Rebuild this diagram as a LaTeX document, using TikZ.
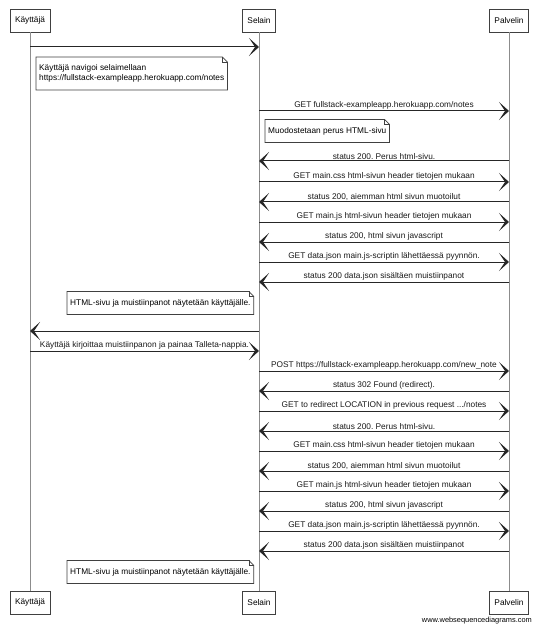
\documentclass[tikz,border=0pt]{standalone}
\usepackage{fontspec}
\setmainfont{Liberation Sans}
\usetikzlibrary{arrows.meta}

\begin{document}
\frenchspacing
\begin{tikzpicture}[
    x=1pt, y=-1pt,
    actor/.style={rectangle, draw=black!75, line width=0.7pt, fill=white, inner xsep=5pt, minimum height=23pt, font=\fontsize{8.3}{10}\selectfont},
    lifeline/.style={draw=black!45, line width=0.6pt},
    note/.style={rectangle, fill=white, inner xsep=3pt, inner ysep=7.5pt, align=left, anchor=west, font=\fontsize{8.3}{10}\selectfont},
    noteline/.style={draw=black!75, line width=0.7pt},
    msg/.style={-{Stealth[length=10pt, width=18pt, inset=6pt]}, line width=1pt, draw=black!85},
    lbl/.style={midway, above, inner sep=1pt, font=\fontsize{8.3}{10}\selectfont, text=black!90}
]
\useasboundingbox (0,0) rectangle (536,628);

% Participants
\node[actor] (kay) at (30,20.5) {Käyttäjä};
\node[actor] (sel) at (259,20.5) {Selain};
\node[actor] (pal) at (509,20.5) {Palvelin};

\node[actor] (kayb) at (30,602.5) {Käyttäjä};
\node[actor] (selb) at (259,602.5) {Selain};
\node[actor] (palb) at (509,602.5) {Palvelin};

% Lifelines
\draw[lifeline] (kay) -- (kayb);
\draw[lifeline] (sel) -- (selb);
\draw[lifeline] (pal) -- (palb);

% First page load
\draw[msg] (kay |- 0,47) -- (sel |- 0,47);
\draw[msg] (sel |- 0,111) -- (pal |- 0,111) node[lbl] {GET fullstack-exampleapp.herokuapp.com/notes};
\draw[msg] (pal |- 0,161) -- (sel |- 0,161) node[lbl] {status 200. Perus html-sivu.};
\draw[msg] (sel |- 0,182) -- (pal |- 0,182) node[lbl] {GET main.css html-sivun header tietojen mukaan};
\draw[msg] (pal |- 0,202) -- (sel |- 0,202) node[lbl] {status 200, aiemman html sivun muotoilut};
\draw[msg] (sel |- 0,222) -- (pal |- 0,222) node[lbl] {GET main.js html-sivun header tietojen mukaan};
\draw[msg] (pal |- 0,242) -- (sel |- 0,242) node[lbl] {status 200, html sivun javascript};
\draw[msg] (sel |- 0,262) -- (pal |- 0,262) node[lbl] {GET data.json main.js-scriptin lähettäessä pyynnön.};
\draw[msg] (pal |- 0,282) -- (sel |- 0,282) node[lbl] {status 200 data.json sisältäen muistiinpanot};
\draw[msg] (sel |- 0,331) -- (kay |- 0,331);

% New note
\draw[msg] (kay |- 0,351) -- (sel |- 0,351) node[lbl] {Käyttäjä kirjoittaa muistiinpanon ja painaa Talleta-nappia.};
\draw[msg] (sel |- 0,371) -- (pal |- 0,371) node[lbl] {POST https://fullstack-exampleapp.herokuapp.com/new\_note};
\draw[msg] (pal |- 0,391) -- (sel |- 0,391) node[lbl] {status 302 Found (redirect).};
\draw[msg] (sel |- 0,411) -- (pal |- 0,411) node[lbl] {GET to redirect LOCATION in previous request .../notes};
\draw[msg] (pal |- 0,431) -- (sel |- 0,431) node[lbl] {status 200. Perus html-sivu.};
\draw[msg] (sel |- 0,451) -- (pal |- 0,451) node[lbl] {GET main.css html-sivun header tietojen mukaan};
\draw[msg] (pal |- 0,471) -- (sel |- 0,471) node[lbl] {status 200, aiemman html sivun muotoilut};
\draw[msg] (sel |- 0,491) -- (pal |- 0,491) node[lbl] {GET main.js html-sivun header tietojen mukaan};
\draw[msg] (pal |- 0,511) -- (sel |- 0,511) node[lbl] {status 200, html sivun javascript};
\draw[msg] (sel |- 0,531) -- (pal |- 0,531) node[lbl] {GET data.json main.js-scriptin lähettäessä pyynnön.};
\draw[msg] (pal |- 0,551) -- (sel |- 0,551) node[lbl] {status 200 data.json sisältäen muistiinpanot};

% Notes
\node[note] (note1) at (36,73.5) {Käyttäjä navigoi selaimellaan\\https://fullstack-exampleapp.herokuapp.com/notes};
\node[note] (note2) at (265,131) {Muodostetaan perus HTML-sivu};
\node[note] (note3) at (67,303) {HTML-sivu ja muistiinpanot näytetään käyttäjälle.};
\node[note] (note4) at (67,572) {HTML-sivu ja muistiinpanot näytetään käyttäjälle.};

\foreach \n in {note1,note2,note3,note4} {
  \draw[noteline] (\n.south west) -- (\n.north west) -- ([xshift=-5pt]\n.north east) -- ([yshift=-5pt]\n.north east) -- (\n.south east) -- cycle;
  \draw[noteline, line width=0.5pt] ([xshift=-5pt]\n.north east) |- ([yshift=-5pt]\n.north east);
}

% Footer
\node[font=\fontsize{7.4}{9}\selectfont, anchor=east, inner sep=0pt] (footer) at (532,621) {www.websequencediagrams.com};

\end{tikzpicture}
\end{document}
